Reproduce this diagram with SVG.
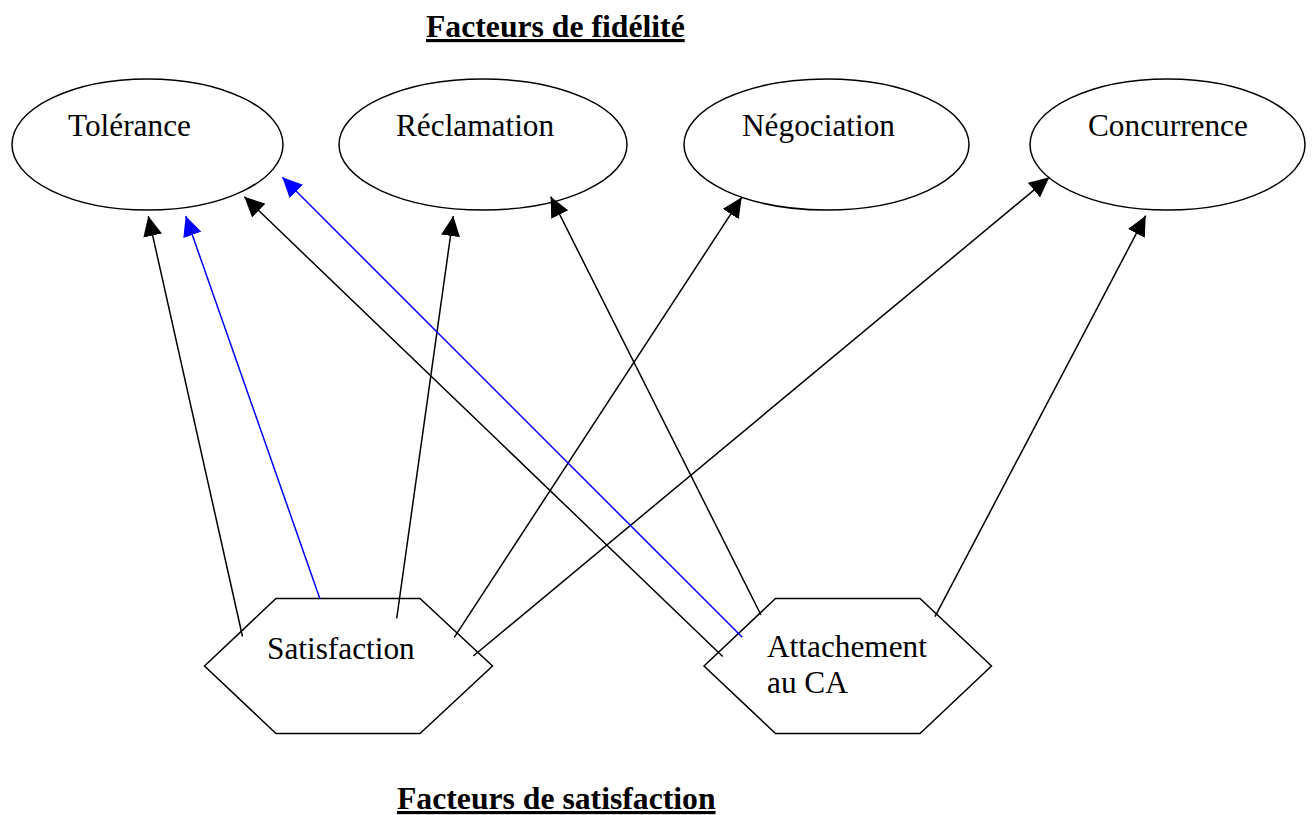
<svg xmlns="http://www.w3.org/2000/svg" width="1314" height="815" viewBox="0 0 1314 815">
<style>
.shape{fill:#fff;stroke:#000;stroke-width:1.5}
.lbl{font-family:"Liberation Serif","Times New Roman",serif;font-size:31.3px;fill:#000}
.title{font-family:"Liberation Serif","Times New Roman",serif;font-size:31.7px;font-weight:bold;fill:#000;text-decoration:underline}
.k{stroke:#000;stroke-width:1.5;fill:none}
.b{stroke:#0000ff;stroke-width:1.5;fill:none}
</style>
<defs>
<marker id="ak" markerUnits="userSpaceOnUse" markerWidth="21" markerHeight="20" refX="20" refY="9.5" orient="auto"><path d="M0,0 L20,9.5 L0,19 z" fill="#000"/></marker>
<marker id="ab" markerUnits="userSpaceOnUse" markerWidth="21" markerHeight="20" refX="20" refY="9.5" orient="auto"><path d="M0,0 L20,9.5 L0,19 z" fill="#0000ff"/></marker>
</defs>
<rect width="1314" height="815" fill="#fff"/>
<text class="title" x="426" y="37">Facteurs de fidélité</text>
<g id="tolerance"><ellipse class="shape" cx="147.5" cy="144.5" rx="135.5" ry="65.5"/><text class="lbl" x="68" y="136">Tolérance</text></g>
<g id="reclamation"><ellipse class="shape" cx="483" cy="144.5" rx="144" ry="65.5"/><text class="lbl" x="396" y="136">Réclamation</text></g>
<g id="negociation"><ellipse class="shape" cx="826.5" cy="144.5" rx="142.5" ry="65.5"/><text class="lbl" x="742" y="136">Négociation</text></g>
<g id="concurrence"><ellipse class="shape" cx="1167.5" cy="144.5" rx="137.5" ry="65.5"/><text class="lbl" x="1088" y="136">Concurrence</text></g>
<g id="satisfaction"><polygon class="shape" points="204.5,666 276,598.5 420,598.5 492.5,666 420,733.5 276,733.5"/><text class="lbl" x="267" y="659">Satisfaction</text></g>
<g id="attachement"><polygon class="shape" points="704,666 775.5,598.5 920,598.5 991.5,666 920,733.5 775.5,733.5"/><text class="lbl" x="767" y="657">Attachement</text><text class="lbl" x="767" y="693">au CA</text></g>
<g id="connectors">
<line class="k" x1="242.5" y1="636.5" x2="148.3" y2="216" marker-end="url(#ak)"/>
<line class="b" x1="320" y1="599" x2="185.7" y2="216" marker-end="url(#ab)"/>
<line class="k" x1="396.7" y1="618.3" x2="453.3" y2="216" marker-end="url(#ak)"/>
<line class="k" x1="454.3" y1="637.3" x2="741.7" y2="197.3" marker-end="url(#ak)"/>
<line class="k" x1="473.3" y1="656" x2="1049.3" y2="177.3" marker-end="url(#ak)"/>
<line class="k" x1="722.7" y1="656.5" x2="244.3" y2="196.7" marker-end="url(#ak)"/>
<line class="b" x1="742.3" y1="637.3" x2="282.3" y2="177.3" marker-end="url(#ab)"/>
<line class="k" x1="761" y1="615" x2="550.7" y2="196.7" marker-end="url(#ak)"/>
<line class="k" x1="935" y1="616.7" x2="1145.7" y2="215.7" marker-end="url(#ak)"/>
</g>
<text class="title" x="397" y="809">Facteurs de satisfaction</text>
</svg>
